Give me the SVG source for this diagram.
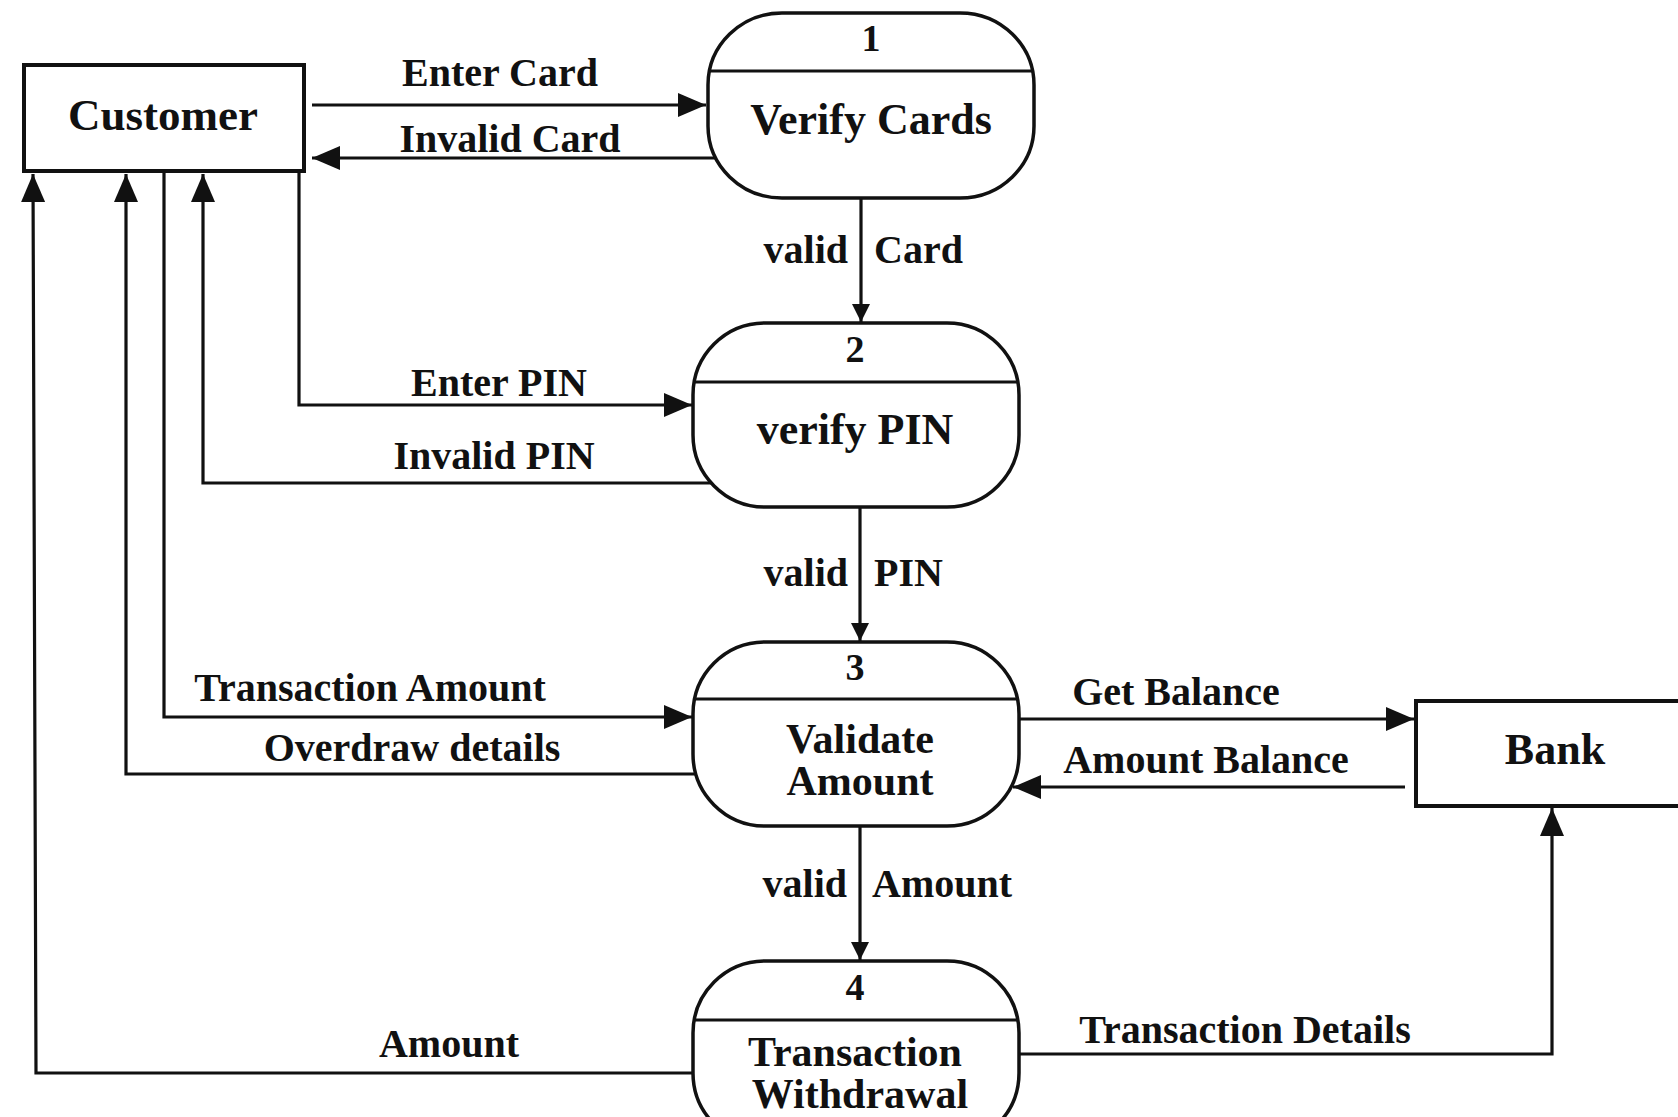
<svg xmlns="http://www.w3.org/2000/svg" width="1678" height="1117" viewBox="0 0 1678 1117">
<style>
.box{fill:#fff;stroke:#111;stroke-width:4}
.proc{fill:#fff;stroke:#111;stroke-width:3.5}
.div{stroke:#111;stroke-width:3}
.ln{fill:none;stroke:#111;stroke-width:3.2}
text{font-family:"Liberation Serif","Times New Roman",serif;font-weight:bold;fill:#111}
.n{font-size:44px;text-anchor:middle}
.n2{font-size:42px;text-anchor:middle}
.num{font-size:38px;text-anchor:middle}
.l{font-size:40px;text-anchor:middle}
.r{font-size:40px;text-anchor:end}
.s{font-size:40px;text-anchor:start}
</style>
<defs>
<marker id="ah" markerUnits="userSpaceOnUse" markerWidth="30" markerHeight="24" refX="28" refY="12" orient="auto">
<path d="M0,0 L28,12 L0,24 Z" fill="#111"/>
</marker>
<marker id="ahs" markerUnits="userSpaceOnUse" markerWidth="20" markerHeight="18" refX="18" refY="9" orient="auto">
<path d="M0,0 L18,9 L0,18 Z" fill="#111"/>
</marker>
</defs>
<rect width="1678" height="1117" fill="#fff"/>

<g id="connectors">
<line class="ln" x1="312" y1="105" x2="706" y2="105" marker-end="url(#ah)"/>
<line class="ln" x1="716" y1="158" x2="312" y2="158" marker-end="url(#ah)"/>
<line class="ln" x1="861" y1="198" x2="861" y2="322" marker-end="url(#ahs)"/>
<polyline class="ln" points="299,171 299,405 692,405" marker-end="url(#ah)"/>
<polyline class="ln" points="711,483 203,483 203,174" marker-end="url(#ah)"/>
<line class="ln" x1="860" y1="507" x2="860" y2="641" marker-end="url(#ahs)"/>
<polyline class="ln" points="164,171 164,717 692,717" marker-end="url(#ah)"/>
<polyline class="ln" points="696,774 126,774 126,174" marker-end="url(#ah)"/>
<line class="ln" x1="1019" y1="719" x2="1414" y2="719" marker-end="url(#ah)"/>
<line class="ln" x1="1405" y1="787" x2="1013" y2="787" marker-end="url(#ah)"/>
<line class="ln" x1="860" y1="826" x2="860" y2="960" marker-end="url(#ahs)"/>
<polyline class="ln" points="693,1073 36,1073 33,174" marker-end="url(#ah)"/>
<polyline class="ln" points="1019,1054 1552,1054 1552,808" marker-end="url(#ah)"/>
<text class="l" x="500" y="86">Enter Card</text>
<text class="l" x="510" y="152">Invalid Card</text>
<text class="r" x="848" y="263">valid</text>
<text class="s" x="874" y="263">Card</text>
<text class="l" x="499" y="396">Enter PIN</text>
<text class="l" x="494" y="469">Invalid PIN</text>
<text class="r" x="848" y="586">valid</text>
<text class="s" x="874" y="586">PIN</text>
<text class="l" x="370" y="701">Transaction Amount</text>
<text class="l" x="412" y="761">Overdraw details</text>
<text class="l" x="1176" y="705">Get Balance</text>
<text class="l" x="1206" y="773">Amount Balance</text>
<text class="r" x="847" y="897">valid</text>
<text class="s" x="872" y="897">Amount</text>
<text class="l" x="449" y="1057">Amount</text>
<text class="l" x="1245" y="1043">Transaction Details</text>
</g>

<g id="customer">
<rect class="box" x="24" y="65" width="280" height="106"/>
<text class="n" x="163" y="130" style="font-size:45px">Customer</text>
</g>

<g id="p1">
<rect class="proc" x="708" y="13" width="326" height="185" rx="74" ry="72"/>
<line class="div" x1="710" y1="71" x2="1032" y2="71"/>
<text class="num" x="871" y="51">1</text>
<text class="n" x="871" y="134">Verify Cards</text>
</g>

<g id="p2">
<rect class="proc" x="693" y="323" width="326" height="184" rx="72" ry="72"/>
<line class="div" x1="695" y1="382" x2="1017" y2="382"/>
<text class="num" x="855" y="362">2</text>
<text class="n" x="855" y="444">verify PIN</text>
</g>

<g id="p3">
<rect class="proc" x="693" y="642" width="326" height="184" rx="72" ry="72"/>
<line class="div" x1="695" y1="699" x2="1017" y2="699"/>
<text class="num" x="855" y="680">3</text>
<text class="n2" x="860" y="753">Validate</text>
<text class="n2" x="860" y="795">Amount</text>
</g>

<g id="p4">
<rect class="proc" x="693" y="961" width="326" height="184" rx="72" ry="72"/>
<line class="div" x1="695" y1="1020" x2="1017" y2="1020"/>
<text class="num" x="855" y="1000">4</text>
<text class="n2" x="855" y="1066">Transaction</text>
<text class="n2" x="860" y="1108">Withdrawal</text>
</g>

<g id="bank">
<rect class="box" x="1416" y="701" width="270" height="105"/>
<text class="n" x="1555" y="764">Bank</text>
</g>
</svg>
